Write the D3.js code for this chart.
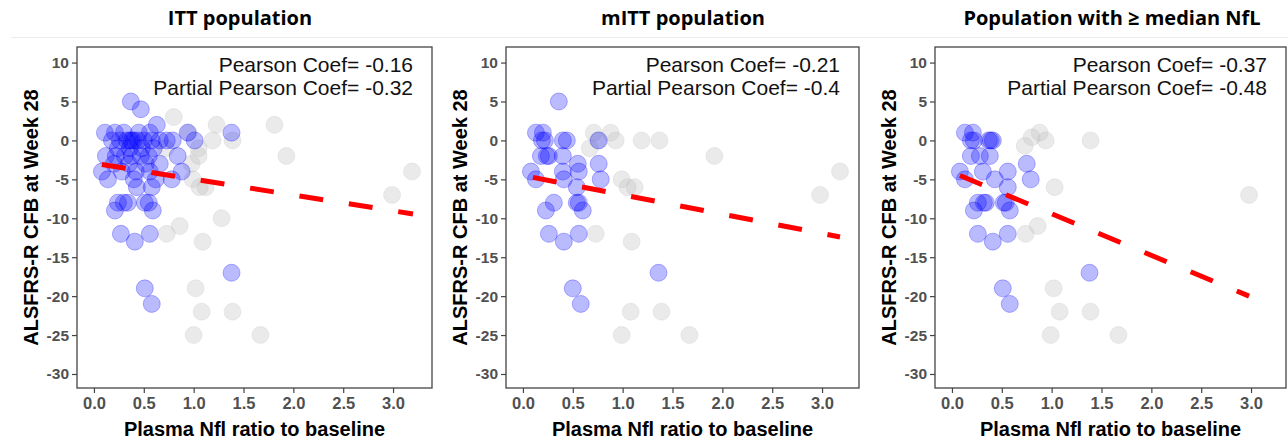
<!DOCTYPE html>
<html>
<head>
<meta charset="utf-8">
<script src="https://cdn.jsdelivr.net/npm/d3@7"></script>
<style>
  body { margin: 0; background: #fff; }
  svg { display: block; }
</style>
</head>
<body>
<svg id="chart" width="1288" height="445"></svg>
<script>
// ---- values ----
const panelTitles = ["ITT population", "mITT population", "Population with \u2265 median NfL"];
const pearsonCoef = ["-0.16", "-0.21", "-0.37"];
const partialPearsonCoef = ["-0.32", "-0.4", "-0.48"];
const xTicks = [0, 0.5, 1, 1.5, 2, 2.5, 3];
const yTicks = [10, 5, 0, -5, -10, -15, -20, -25, -30];

// [Nfl ratio, ALSFRS-R change] — highlighted subjects
const ittHighlighted = [
  [0.37, 5], [0.47, 4], [0.63, 2],
  [0.11, 1], [0.21, 1], [0.30, 1], [0.45, 1], [0.56, 1], [0.94, 1], [1.38, 1],
  [0.18, 0], [0.26, 0], [0.33, 0], [0.36, 0], [0.38, 0], [0.40, 0], [0.44, 0], [0.50, 0],
  [0.58, 0], [0.66, 0], [0.73, 0], [0.79, 0], [1.01, 0],
  [0.24, -1], [0.36, -1], [0.48, -1], [0.60, -1],
  [0.12, -2], [0.22, -2], [0.31, -2], [0.38, -2], [0.47, -2], [0.55, -2], [0.84, -2],
  [0.20, -3], [0.35, -3], [0.52, -3], [0.66, -3],
  [0.08, -4], [0.28, -4], [0.42, -4], [0.56, -4], [0.88, -4],
  [0.14, -5], [0.40, -5], [0.62, -5], [0.78, -5],
  [0.43, -6], [0.58, -6],
  [0.24, -8], [0.30, -8], [0.34, -8], [0.51, -8], [0.55, -8],
  [0.21, -9], [0.59, -9],
  [0.27, -12], [0.56, -12], [0.41, -13],
  [1.38, -17], [0.51, -19], [0.58, -21]
];
const ittOther = [
  [0.80, 3], [1.23, 2], [1.81, 2], [0.95, 1], [1.19, 0], [1.39, 0], [0.72, -1], [1.05, -1],
  [1.93, -2], [1.05, -2], [0.98, -3], [3.19, -4], [0.99, -5], [1.06, -6], [1.12, -6],
  [2.99, -7], [1.28, -10], [0.86, -11], [0.73, -12], [1.09, -13],
  [1.02, -19], [1.08, -22], [1.39, -22], [1.00, -25], [1.67, -25]
];

const mittHighlighted = [
  [0.36, 5], [0.13, 1], [0.20, 1], [0.22, 0], [0.19, 0], [0.40, 0], [0.44, 0], [0.76, 0],
  [0.18, -2], [0.24, -2], [0.26, -2], [0.40, -2],
  [0.08, -4], [0.13, -5], [0.40, -4], [0.41, -5], [0.55, -3], [0.56, -4], [0.76, -3], [0.78, -5],
  [0.54, -6], [0.54, -8], [0.56, -8], [0.60, -9], [0.31, -8], [0.23, -9],
  [0.26, -12], [0.41, -13], [0.56, -12],
  [1.36, -17], [0.50, -19], [0.58, -21]
];
const mittOther = [
  [0.71, 1], [0.88, 1], [0.93, 0], [0.67, -1], [0.75, 0], [1.19, 0], [1.37, 0], [1.92, -2],
  [3.18, -4], [2.98, -7], [0.99, -5], [1.05, -6], [1.12, -6], [0.73, -12], [1.09, -13],
  [1.08, -22], [1.39, -22], [0.99, -25], [1.67, -25]
];

const medianHighlighted = [
  [0.13, 1], [0.21, 1], [0.19, 0], [0.22, 0], [0.37, 0], [0.39, 0], [0.41, 0],
  [0.19, -2], [0.28, -2], [0.38, -2],
  [0.08, -4], [0.13, -5], [0.31, -4], [0.43, -5], [0.56, -4], [0.56, -6], [0.75, -3], [0.79, -5],
  [0.26, -8], [0.32, -8], [0.34, -8], [0.52, -8], [0.54, -8], [0.58, -9], [0.22, -9],
  [0.26, -12], [0.41, -13], [0.56, -12],
  [1.38, -17], [0.51, -19], [0.58, -21]
];
const medianOther = [
  [0.88, 1], [0.80, 0.4], [0.73, -0.7], [0.94, 0], [1.39, 0], [1.03, -6], [0.86, -11],
  [0.74, -12], [2.98, -7], [1.02, -19], [1.08, -22], [1.39, -22], [0.99, -25], [1.67, -25]
];

// fitted regression lines: [[x0, y0], [x1, y1]]
const ittFit = [[0.08, -3.1], [3.2, -9.45]];
const mittFit = [[0.1, -4.75], [3.18, -12.4]];
const medianFit = [[0.08, -4.5], [2.98, -20.0]];

// ---- layout ----
const panels = [
  { left: 77, right: 432, title: panelTitles[0], titleX: 240, r1: pearsonCoef[0], r2: partialPearsonCoef[0],
    highlighted: ittHighlighted, other: ittOther, fit: ittFit },
  { left: 506, right: 859, title: panelTitles[1], titleX: 683, r1: pearsonCoef[1], r2: partialPearsonCoef[1],
    highlighted: mittHighlighted, other: mittOther, fit: mittFit },
  { left: 935, right: 1286, title: panelTitles[2], titleX: 1112, r1: pearsonCoef[2], r2: partialPearsonCoef[2],
    highlighted: medianHighlighted, other: medianOther, fit: medianFit }
];
const plotTop = 47, plotBottom = 388;
const pxPerUnit = 99.7;
const xMin = -0.17;

const svg = d3.select("#chart");
const sansBold = "'Liberation Sans', Arial, sans-serif";

// divider under the titles
svg.append("line")
  .attr("x1", 11).attr("x2", 1288).attr("y1", 37.5).attr("y2", 37.5)
  .attr("stroke", "#ececec").attr("stroke-width", 1);

panels.forEach(p => {
  const x = d3.scaleLinear()
    .domain([xMin, xMin + (p.right - p.left) / pxPerUnit])
    .range([p.left, p.right]);
  const y = d3.scaleLinear().domain([-31.8, 12]).range([plotBottom, plotTop]);

  // panel title
  svg.append("text")
    .attr("x", p.titleX).attr("y", 25)
    .attr("text-anchor", "middle")
    .attr("font-family", "'Open Sans', sans-serif")
    .attr("font-weight", 700).attr("font-size", 20)
    .attr("fill", "#000")
    .text(p.title);

  const g = svg.append("g");

  // axes
  const xAxis = d3.axisBottom(x).tickValues(xTicks).tickFormat(d3.format(".1f")).tickSize(5).tickPadding(4);
  const yAxis = d3.axisLeft(y).tickValues(yTicks).tickFormat(d => d).tickSize(5).tickPadding(3);

  const gx = g.append("g").attr("transform", `translate(0,${plotBottom})`).call(xAxis);
  const gy = g.append("g").attr("transform", `translate(${p.left},0)`).call(yAxis);
  [gx, gy].forEach(a => {
    a.select(".domain").remove();
    a.selectAll(".tick line").attr("stroke", "#444").attr("stroke-width", 1.2);
    a.selectAll(".tick text")
      .attr("fill", "#505050")
      .attr("font-family", sansBold)
      .attr("font-weight", 700);
  });
  gx.selectAll(".tick text").attr("font-size", 16.5);
  gy.selectAll(".tick text").attr("font-size", 15.5);

  // points: others underneath, highlighted on top
  g.append("g").selectAll("circle").data(p.other).join("circle")
    .attr("cx", d => x(d[0])).attr("cy", d => y(d[1])).attr("r", 8.5)
    .attr("fill", "rgba(190,190,190,0.32)")
    .attr("stroke", "rgba(190,190,190,0.25)").attr("stroke-width", 1);

  g.append("g").selectAll("circle").data(p.highlighted).join("circle")
    .attr("cx", d => x(d[0])).attr("cy", d => y(d[1])).attr("r", 8.5)
    .attr("fill", "rgba(0,0,255,0.27)")
    .attr("stroke", "rgba(0,0,255,0.28)").attr("stroke-width", 1);

  // regression line
  g.append("path")
    .datum(p.fit)
    .attr("d", d3.line().x(d => x(d[0])).y(d => y(d[1])))
    .attr("fill", "none")
    .attr("stroke", "#ff0000")
    .attr("stroke-width", 5)
    .attr("stroke-dasharray", "24 26");

  // panel frame
  g.append("rect")
    .attr("x", p.left).attr("y", plotTop)
    .attr("width", p.right - p.left).attr("height", plotBottom - plotTop)
    .attr("fill", "none").attr("stroke", "#444").attr("stroke-width", 1.3);

  // correlation annotations
  const ann = g.append("g")
    .attr("font-family", "'Liberation Sans', Arial, sans-serif")
    .attr("font-size", 21).attr("fill", "#111")
    .attr("text-anchor", "end");
  ann.append("text").attr("x", p.right - 19).attr("y", 71.5).text(`Pearson Coef= ${p.r1}`);
  ann.append("text").attr("x", p.right - 19).attr("y", 95).text(`Partial Pearson Coef= ${p.r2}`);

  // axis titles
  g.append("text")
    .attr("x", (p.left + p.right) / 2).attr("y", 436)
    .attr("text-anchor", "middle")
    .attr("font-family", sansBold).attr("font-weight", 700).attr("font-size", 20)
    .attr("fill", "#000")
    .text("Plasma Nfl ratio to baseline");

  g.append("text")
    .attr("transform", `translate(${p.left - 39},${(plotTop + plotBottom) / 2}) rotate(-90)`)
    .attr("text-anchor", "middle")
    .attr("font-family", sansBold).attr("font-weight", 700).attr("font-size", 20)
    .attr("fill", "#000")
    .text("ALSFRS-R CFB at Week 28");
});
</script>
</body>
</html>
